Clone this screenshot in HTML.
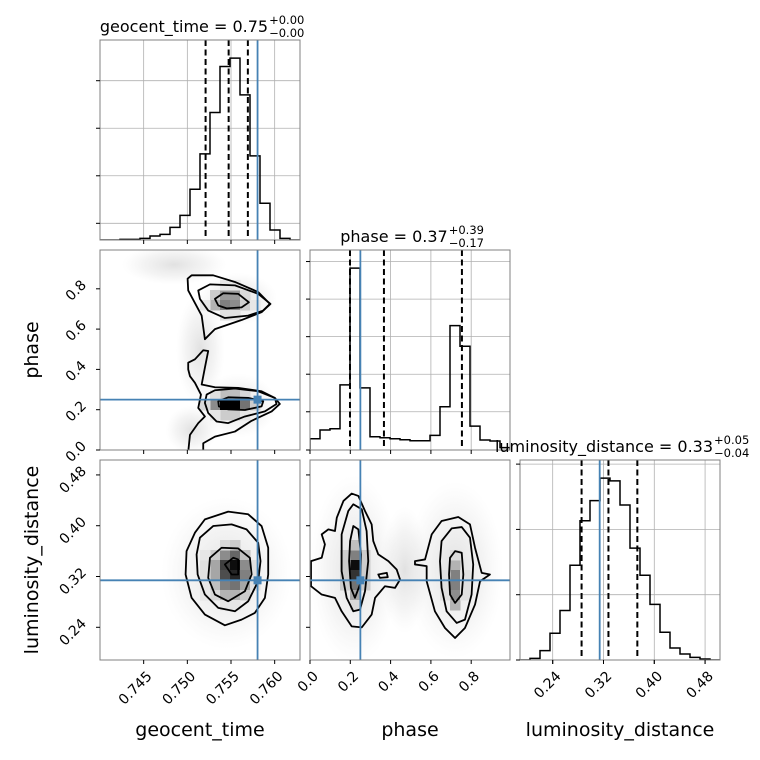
<!DOCTYPE html>
<html><head><meta charset="utf-8"><style>
html,body{margin:0;padding:0;background:#fff;}
svg{display:block;font-family:"DejaVu Sans","Liberation Sans",sans-serif;}
</style></head><body>
<svg id="c" width="760" height="760" viewBox="0 0 760 760" xmlns="http://www.w3.org/2000/svg">
<defs>
<radialGradient id="cloud"><stop offset="0" stop-color="#777" stop-opacity="0.22"/><stop offset="0.6" stop-color="#999" stop-opacity="0.11"/><stop offset="1" stop-color="#bbb" stop-opacity="0"/></radialGradient>
</defs>
</svg>
<script>
// ---------- data ----------
const geoRange=[0.74,0.7629], phaseRange=[0,0.9926], lumRange=[0.1885,0.5035];
const geoCounts=[0,0,2,2,5,12,17,38,74,152,258,382,520,545,435,252,110,30,5,0];
const phaseCounts=[34,60,64,196,547,187,40,37,34,31,28,28,44,130,374,312,72,30,27,7];
const lumCounts=[0,5,28,80,148,283,416,476,543,535,463,334,253,166,83,36,18,8,3,0];
const geoQuant=[0.75209,0.75473,0.75693], phaseQuant=[0.1985,0.367,0.754], lumQuant=[0.2855,0.3278,0.3733];
const truthGeo=0.75804, truthPhase=0.25, truthLum=0.314;
const geoTicks=[0.745,0.750,0.755,0.760], geoTickLabels=["0.745","0.750","0.755","0.760"];
const phaseTicks=[0,0.2,0.4,0.6,0.8], phaseTickLabels=["0.0","0.2","0.4","0.6","0.8"];
const lumTicks=[0.24,0.32,0.40,0.48], lumTickLabels=["0.24","0.32","0.40","0.48"];
const geoHistYTicks=[50,192.5,335,477.5];
const phaseHistYTicks=[0,115,228,341,454,567];
const lumHistYTicks=[0,195,390,585];
// 2D panel A: geocent_time vs phase
const cellsA=[[11,15,.2],[12,15,.4],[13,15,.4],[14,15,.15],[11,14,.3],[12,14,.5],[13,14,.45],[14,14,.2],[10,14,.1],[15,14,.1],[12,16,.1],[13,16,.1],[12,13,.12],[13,13,.12],
[11,4,.45],[12,4,1],[13,4,1],[14,4,.55],[10,4,.15],[15,4,.2],[12,5,.25],[13,5,.25],[11,5,.12],[14,5,.15],[12,3,.2],[13,3,.2],[11,3,.1],[14,3,.1]];
const cloudsA=[[0.7485,0.92,0.006,0.1],[0.7515,0.5,0.0028,0.28],[0.7558,0.75,0.0045,0.13],[0.7558,0.22,0.0045,0.16],[0.7505,0.1,0.003,0.12]];
const contA1=[[0.75049,0.867],[0.75296,0.867],[0.75545,0.834],[0.75811,0.784],[0.75945,0.725],[0.7585,0.684],[0.75621,0.645],[0.75316,0.6],[0.75201,0.55],[0.75164,0.667],[0.7501,0.792],[0.75003,0.85]];
const contA2=[[0.75125,0.792],[0.75259,0.822],[0.75545,0.817],[0.75811,0.775],[0.75952,0.725],[0.75869,0.692],[0.75697,0.667],[0.7543,0.655],[0.75239,0.692],[0.75144,0.75]];
const contA3=[[0.75316,0.75],[0.75411,0.778],[0.75582,0.775],[0.75705,0.733],[0.75621,0.708],[0.7545,0.703],[0.75354,0.717]];
const contA4=[[0.7501,0.4335],[0.75087,0.45],[0.75182,0.495],[0.75239,0.4915],[0.75201,0.4085],[0.75164,0.325],[0.75316,0.3115],[0.75582,0.3085],[0.7585,0.2915],[0.76002,0.2585],[0.76059,0.2285],[0.75965,0.1915],[0.75736,0.145],[0.75545,0.0915],[0.75316,0.0665],[0.75182,0.0335],[0.75182,-0.01],[0.7501,-0.01],[0.7503,0.075],[0.75125,0.1335],[0.75201,0.1665],[0.75125,0.2085],[0.75156,0.275],[0.75087,0.3335],[0.7503,0.3665],[0.7501,0.4]];
const contA5=[[0.75221,0.275],[0.75316,0.2965],[0.75545,0.305],[0.75811,0.2915],[0.76002,0.2585],[0.76021,0.2285],[0.75888,0.1915],[0.75659,0.1665],[0.75468,0.1335],[0.75335,0.1415],[0.75239,0.1835],[0.75201,0.2335]];
const contA6=[[0.75354,0.2415],[0.75468,0.2615],[0.75697,0.2585],[0.75869,0.2415],[0.7585,0.2165],[0.75659,0.1985],[0.75468,0.2015],[0.75361,0.2165]];
// 2D panel B: geocent_time vs luminosity_distance
const cellsB=[[11,10,.2],[12,10,.45],[13,10,.6],[14,10,.25],[11,9,.35],[12,9,.75],[13,9,.95],[14,9,.45],[11,8,.35],[12,8,.7],[13,8,.85],[14,8,.5],[11,7,.25],[12,7,.5],[13,7,.55],[14,7,.35],[11,6,.15],[12,6,.3],[13,6,.3],[14,6,.2],[12,11,.15],[13,11,.2],[12,5,.1],[13,5,.1],[10,6,.1],[10,7,.1],[10,8,.12],[10,9,.12],[10,10,.1],[15,7,.12],[15,8,.12],[15,9,.12]];
const cloudsB=[[0.7545,0.325,0.0075,0.12]];
const contB1=[[0.75087,0.389],[0.75201,0.41],[0.75468,0.4222],[0.75697,0.418],[0.7585,0.3995],[0.75926,0.3653],[0.75926,0.3232],[0.75888,0.2864],[0.75773,0.2627],[0.75621,0.2521],[0.7543,0.2431],[0.75201,0.26],[0.75049,0.2864],[0.7498,0.3232],[0.74991,0.36]];
const contB2=[[0.75144,0.3811],[0.75296,0.3995],[0.75507,0.4021],[0.75678,0.3942],[0.75811,0.3732],[0.75838,0.3442],[0.75811,0.3126],[0.75697,0.281],[0.75545,0.2652],[0.75354,0.2706],[0.75201,0.2916],[0.75118,0.3232],[0.75106,0.3548]];
const contB3=[[0.75259,0.3495],[0.75392,0.3653],[0.75582,0.3642],[0.75716,0.3495],[0.75736,0.3232],[0.75659,0.2968],[0.75468,0.281],[0.75316,0.2916],[0.75239,0.3179]];
const contB4=[[0.7543,0.339],[0.75525,0.3495],[0.75582,0.3469],[0.75582,0.3232],[0.75507,0.3232]];
// 2D panel C: phase vs luminosity_distance
const cellsC=[[4,10,.5],[4,9,.95],[4,8,.8],[4,7,.55],[4,6,.35],[4,11,.25],[4,5,.15],[3,7,.2],[3,8,.2],[3,9,.2],[3,10,.2],[5,7,.2],[5,8,.2],[5,9,.2],[5,10,.2],
[14,9,.3],[14,8,.5],[14,7,.5],[14,6,.45],[14,5,.3],[14,10,.15],[13,6,.12],[13,7,.12],[13,8,.12],[15,6,.12],[15,7,.12],[15,8,.12]];
const cloudsC=[[0.22,0.33,0.22,0.15],[0.72,0.33,0.24,0.14],[0.47,0.33,0.12,0.1]];
const contC1=[[0.005,0.3442],[0.058,0.3495],[0.074,0.3706],[0.058,0.3864],[0.091,0.3942],[0.124,0.3916],[0.133,0.4127],[0.166,0.439],[0.207,0.4506],[0.24,0.4469],[0.273,0.4232],[0.306,0.4021],[0.314,0.3758],[0.339,0.3548],[0.389,0.3442],[0.43,0.3311],[0.447,0.3153],[0.422,0.3021],[0.372,0.3047],[0.323,0.2864],[0.306,0.26],[0.257,0.2399],[0.207,0.2415],[0.157,0.2652],[0.124,0.2864],[0.058,0.2916],[0.005,0.3047]];
const contC2=[[0.339,0.3232],[0.381,0.3258],[0.386,0.3189],[0.347,0.3179]];
const contC3=[[0.157,0.3864],[0.19,0.4232],[0.215,0.4338],[0.257,0.4259],[0.281,0.3916],[0.289,0.3442],[0.273,0.2968],[0.248,0.2679],[0.215,0.2652],[0.182,0.2864],[0.157,0.3284]];
const contC4=[[0.199,0.3758],[0.215,0.3995],[0.24,0.3942],[0.253,0.3548],[0.248,0.3074],[0.223,0.2864],[0.203,0.3021],[0.194,0.3442]];
const contC5=[[0.521,0.3442],[0.571,0.3469],[0.604,0.3864],[0.653,0.4074],[0.736,0.4137],[0.794,0.4021],[0.819,0.3653],[0.852,0.3258],[0.893,0.3232],[0.844,0.3126],[0.819,0.2758],[0.769,0.2389],[0.72,0.2232],[0.67,0.2389],[0.62,0.2652],[0.579,0.3126],[0.579,0.3363],[0.521,0.339]];
const contC6=[[0.653,0.3758],[0.703,0.3958],[0.753,0.3979],[0.794,0.3811],[0.81,0.339],[0.802,0.2916],[0.769,0.2521],[0.728,0.2469],[0.678,0.2652],[0.653,0.3021],[0.645,0.3442]];
const contC7=[[0.695,0.3495],[0.72,0.36],[0.753,0.3574],[0.761,0.3232],[0.753,0.2916],[0.72,0.2784],[0.695,0.2916],[0.69,0.3232]];

// ---------- drawing ----------
const NS="http://www.w3.org/2000/svg", svg=document.getElementById('c');
const BLUE="#4682b4";
function mk(tag,attrs,parent){const e=document.createElementNS(NS,tag);for(const k in attrs)e.setAttribute(k,attrs[k]);(parent||svg).appendChild(e);return e;}
const colX=[100,310,520], rowY=[40,250,460], S=200;
function lin(d0,d1,p0,p1){return v=>p0+(v-d0)/(d1-d0)*(p1-p0);}
let clipN=0;
function panel(c,r,name){
  const g=mk('g',{});
  
  
  const id='clip'+(clipN++);
  const cp=mk('clipPath',{id:id},g);mk('rect',{x:colX[c],y:rowY[r],width:S,height:S},cp);
  const inner=mk('g',{'clip-path':'url(#'+id+')'},g);
  return {g,inner,x0:colX[c],y0:rowY[r]};
}
function frame(p){const f=mk('rect',{x:p.x0,y:p.y0,width:S,height:S,fill:'none',stroke:'#808080','stroke-width':1},p.g);}
function xticks(p,ticks,sx,labels){
  ticks.forEach((t,i)=>{const x=sx(t);mk('line',{x1:x,x2:x,y1:p.y0+S,y2:p.y0+S+4,stroke:'#000'},p.g);
    if(labels){const ax=x+9, ay=p.y0+S+17;const tx=mk('text',{x:ax,y:ay,'text-anchor':'end','font-size':14,transform:`rotate(-45 ${ax} ${ay})`},p.g);tx.textContent=labels[i];
      
      }});
}
function yticks(p,ticks,sy,labels){
  ticks.forEach((t,i)=>{const y=sy(t);mk('line',{x1:p.x0-4,x2:p.x0,y1:y,y2:y,stroke:'#000'},p.g);
    if(labels){const ax=p.x0-13, ay=y-3;const tx=mk('text',{x:ax,y:ay,'text-anchor':'end','font-size':14,transform:`rotate(-45 ${ax} ${ay})`},p.g);tx.textContent=labels[i];
      
      }});
}
function grid(p,xs,sx,ys,sy){xs.forEach(t=>{const x=sx(t);mk('line',{x1:x,x2:x,y1:p.y0,y2:p.y0+S,stroke:'#b0b0b0','stroke-width':0.8},p.inner);});
  ys.forEach(t=>{const y=sy(t);mk('line',{x1:p.x0,x2:p.x0+S,y1:y,y2:y,stroke:'#b0b0b0','stroke-width':0.8},p.inner);});}
function hist(p,counts,range,quant,truth,xt,yt,name,title,up,lo,tx){
  const sx=lin(range[0],range[1],p.x0,p.x0+S);
  const mx=Math.max(...counts)*1.1, sy=lin(0,mx,p.y0+S,p.y0);
  grid(p,xt,sx,yt,sy);
  const n=counts.length,w=(range[1]-range[0])/n;
  let d=`M${sx(range[0])},${sy(0)}`;
  counts.forEach((c,i)=>{d+=` L${sx(range[0]+i*w)},${sy(c)} L${sx(range[0]+(i+1)*w)},${sy(c)}`;});
  d+=` L${sx(range[1])},${sy(0)}`;
  const h=mk('path',{d:d,fill:'none',stroke:'#000','stroke-width':1.5},p.inner);
  
  
  quant.forEach(q=>{const l=mk('line',{x1:sx(q),x2:sx(q),y1:p.y0,y2:p.y0+S,stroke:'#000','stroke-width':2,'stroke-dasharray':'6,3.5'},p.inner);
    
    });
  const tl=mk('line',{x1:sx(truth),x2:sx(truth),y1:p.y0,y2:p.y0+S,stroke:BLUE,'stroke-width':1.8},p.inner);
  
  
  frame(p);
  xticks(p,xt,sx,null);yticks(p,yt,sy,null);
  const t=mk('text',{x:tx,y:p.y0-8,'text-anchor':'middle','font-size':16},svg);
  
  
  t.textContent=title;
  const bb=t.getComputedTextLength();const ex=tx+bb/2+1;
  const s1=mk('text',{x:ex,y:p.y0-16,'font-size':11.5},svg);s1.textContent=up;
  
  
  const s2=mk('text',{x:ex,y:p.y0-3,'font-size':11.5},svg);s2.textContent=lo;
  
  
  t.setAttribute('x',tx-16);s1.setAttribute('x',ex-16);s2.setAttribute('x',ex-16);
  return sx;
}
function panel2d(p,xr,yr,cells,clouds,conts,tx,ty,name){
  const sx=lin(xr[0],xr[1],p.x0,p.x0+S), sy=lin(yr[0],yr[1],p.y0+S,p.y0);
  clouds.forEach(c=>{const e=mk('ellipse',{cx:sx(c[0]),cy:sy(c[1]),rx:Math.abs(sx(c[0]+c[2])-sx(c[0])),ry:Math.abs(sy(c[1]+c[3])-sy(c[1])),fill:'url(#cloud)'},p.inner);
    
    });
  const wx=(xr[1]-xr[0])/20, wy=(yr[1]-yr[0])/20;
  cells.forEach(c=>{const g=Math.round(255*(1-c[2]));
    const r=mk('rect',{x:sx(xr[0]+c[0]*wx),y:sy(yr[0]+(c[1]+1)*wy),width:sx(xr[0]+(c[0]+1)*wx)-sx(xr[0]+c[0]*wx)+0.5,height:sy(yr[0]+c[1]*wy)-sy(yr[0]+(c[1]+1)*wy)+0.5,fill:`rgb(${g},${g},${g})`},p.inner);
    
    });
  conts.forEach(ct=>{const d='M'+ct.map(q=>sx(q[0])+','+sy(q[1])).join(' L')+' Z';
    const pa=mk('path',{d:d,fill:'none',stroke:'#000','stroke-width':1.8,'stroke-linejoin':'round'},p.inner);
    
    });
  const v=mk('line',{x1:sx(tx),x2:sx(tx),y1:p.y0,y2:p.y0+S,stroke:BLUE,'stroke-width':1.8},p.inner);
  
  
  const h=mk('line',{x1:p.x0,x2:p.x0+S,y1:sy(ty),y2:sy(ty),stroke:BLUE,'stroke-width':1.8},p.inner);
  
  
  const m=mk('rect',{x:sx(tx)-4,y:sy(ty)-4,width:8,height:8,fill:BLUE},p.inner);
  
  
  frame(p);
  return {sx,sy};
}
// histograms
const pg=panel(0,0,'geocent-time-hist-panel');
hist(pg,geoCounts,geoRange,geoQuant,truthGeo,geoTicks,geoHistYTicks,'geocent-time','geocent_time = 0.75','+0.00','\u22120.00',200);
const pp=panel(1,1,'phase-hist-panel');
hist(pp,phaseCounts,phaseRange,phaseQuant,truthPhase,phaseTicks,phaseHistYTicks,'phase','phase = 0.37','+0.39','\u22120.17',410);
const pl=panel(2,2,'luminosity-hist-panel');
const sxl=hist(pl,lumCounts,lumRange,lumQuant,truthLum,lumTicks,lumHistYTicks,'luminosity-distance','luminosity_distance = 0.33','+0.05','\u22120.04',620);
xticks(pl,lumTicks,sxl,lumTickLabels);
// 2D
const pa=panel(0,1,'geocent-vs-phase-panel');
const A=panel2d(pa,geoRange,phaseRange,cellsA,cloudsA,[contA1,contA2,contA3,contA4,contA5,contA6],truthGeo,truthPhase);
xticks(pa,geoTicks,A.sx,null);yticks(pa,phaseTicks,A.sy,phaseTickLabels);
const pb=panel(0,2,'geocent-vs-luminosity-panel');
const B=panel2d(pb,geoRange,lumRange,cellsB,cloudsB,[contB1,contB2,contB3,contB4],truthGeo,truthLum);
xticks(pb,geoTicks,B.sx,geoTickLabels);yticks(pb,lumTicks,B.sy,lumTickLabels);
const pc=panel(1,2,'phase-vs-luminosity-panel');
const C=panel2d(pc,phaseRange,lumRange,cellsC,cloudsC,[contC1,contC2,contC3,contC4,contC5,contC6,contC7],truthPhase,truthLum);
xticks(pc,phaseTicks,C.sx,phaseTickLabels);yticks(pc,lumTicks,C.sy,null);
// axis labels
function label(txt,x,y,rot,name){const t=mk('text',{x:x,y:y,'text-anchor':'middle','font-size':19,transform:rot?`rotate(-90 ${x} ${y})`:''});t.textContent=txt;
  
  }
label('geocent_time',200,736,false,'x-axis-title-geocent-time');
label('phase',410,736,false,'x-axis-title-phase');
label('luminosity_distance',620,736,false,'x-axis-title-luminosity-distance');
label('phase',38,350,true,'y-axis-title-phase');
label('luminosity_distance',38,560,true,'y-axis-title-luminosity-distance');
</script>
</body></html>
